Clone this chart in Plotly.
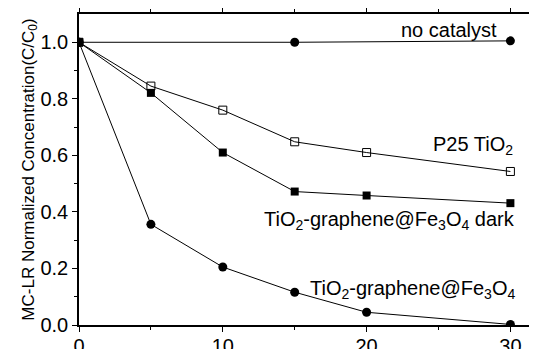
import plotly.graph_objects as go

time_nocat = [0, 15, 30]
conc_nocat = [1.0, 1.0, 1.005]

time = [0, 5, 10, 15, 20, 30]
conc_p25 = [1.0, 0.845, 0.76, 0.648, 0.61, 0.543]
conc_dark = [1.0, 0.821, 0.61, 0.472, 0.458, 0.431]
conc_cat = [1.0, 0.356, 0.205, 0.116, 0.045, 0.002]

labels = {
    "nocat": "no catalyst",
    "p25": "P25 TiO<sub>2</sub>",
    "dark": "TiO<sub>2</sub>-graphene@Fe<sub>3</sub>O<sub>4</sub> dark",
    "cat": "TiO<sub>2</sub>-graphene@Fe<sub>3</sub>O<sub>4</sub>",
}

FONT = "Liberation Sans, Arial, sans-serif"
fig = go.Figure()
line = dict(color="black", width=1)
fig.add_trace(go.Scatter(x=time_nocat, y=conc_nocat, mode="lines+markers", line=line,
                         marker=dict(symbol="circle", size=9, color="black")))
fig.add_trace(go.Scatter(x=time, y=conc_p25, mode="lines+markers", line=line,
                         marker=dict(symbol="square-open", size=8, color="black", line=dict(width=1))))
fig.add_trace(go.Scatter(x=time, y=conc_cat, mode="lines+markers", line=line,
                         marker=dict(symbol="circle", size=9, color="black")))
fig.add_trace(go.Scatter(x=time, y=conc_dark, mode="lines+markers", line=line,
                         marker=dict(symbol="square", size=8, color="black")))

ann_font = dict(family=FONT, size=20, color="black")
fig.add_annotation(x=29.2, y=1.045, text=labels["nocat"], showarrow=False, xanchor="right", yanchor="middle", font=ann_font)
fig.add_annotation(x=24.5, y=0.635, text=labels["p25"], showarrow=False, xanchor="left", yanchor="middle", font=ann_font)
fig.add_annotation(x=12.7, y=0.37, text=labels["dark"], showarrow=False, xanchor="left", yanchor="middle", font=ann_font)
fig.add_annotation(x=15.9, y=0.126, text=labels["cat"], showarrow=False, xanchor="left", yanchor="middle", font=ann_font)

fig.update_layout(
    width=537, height=349,
    margin=dict(l=71, r=8, t=6, b=32),
    paper_bgcolor="white", plot_bgcolor="white",
    showlegend=False,
    font=dict(family=FONT, size=20, color="black"),
)
fig.update_xaxes(
    range=[0, 31.85], tickvals=[0, 10, 20, 30], ticks="outside", ticklen=5, tickwidth=1,
    tickcolor="black", showline=True, linecolor="black", linewidth=1.5, mirror="ticks",
    showgrid=False, zeroline=False, tickfont=dict(size=20), automargin=False,
    ticklabelstandoff=-3,
    minor=dict(tickvals=[5, 15, 25], ticks="outside", ticklen=3, tickcolor="black", showgrid=False),
)
fig.update_yaxes(
    range=[0, 1.1], tickvals=[0, 0.2, 0.4, 0.6, 0.8, 1.0], tickformat=".1f",
    ticks="outside", ticklen=5, tickwidth=1, tickcolor="black",
    showline=True, linecolor="black", linewidth=1.5, showgrid=False, zeroline=False,
    tickfont=dict(size=20), automargin=False,
    minor=dict(tickvals=[0.1, 0.3, 0.5, 0.7, 0.9], ticks="outside", ticklen=3, tickcolor="black", showgrid=False),
    title=dict(text="MC-LR Normalized Concentration(C/C<sub>0</sub>)", font=dict(size=17), standoff=1),
)
fig.write_html("out.html")
